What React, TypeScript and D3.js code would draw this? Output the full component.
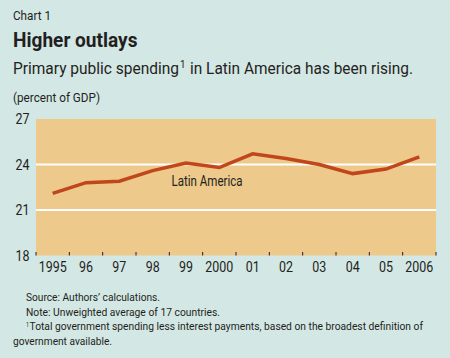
import React from "react";
import * as d3 from "d3";

const years = ["1995", "96", "97", "98", "99", "2000", "01", "02", "03", "04", "05", "2006"];
const values = [22.1, 22.8, 22.9, 23.6, 24.1, 23.8, 24.7, 24.4, 24.0, 23.4, 23.7, 24.5];
const yTicks = [18, 21, 24, 27];

const W = 450;
const H = 358;
const left = 36;
const right = 436;
const top = 119;
const bottom = 255.5;
const font = "Roboto, 'Liberation Sans', sans-serif";
const ink = "#231f20";

type TProps = {
  x: number;
  y: number;
  w: number;
  size: number;
  bold?: boolean;
  anchor?: "start" | "middle" | "end";
  children: React.ReactNode;
};

function T({ x, y, w, size, bold, anchor = "start", children }: TProps) {
  return (
    <text
      x={x}
      y={y}
      fontSize={size}
      fontWeight={bold ? 700 : 400}
      textAnchor={anchor}
      textLength={w}
      lengthAdjust="spacingAndGlyphs"
      fill={ink}
    >
      {children}
    </text>
  );
}

export default function App() {
  const x = d3.scaleBand<string>().domain(years).range([left, right]).padding(0);
  const y = d3.scaleLinear().domain([18, 27]).range([bottom, top]);
  const line = d3
    .line<number>()
    .x((_, i) => (x(years[i]) as number) + x.bandwidth() / 2)
    .y((d) => y(d));

  return (
    <svg
      width={W}
      height={H}
      style={{ position: "absolute", left: 0, top: 0, display: "block" }}
      fontFamily={font}
    >
      <rect x={0} y={0} width={W} height={H} fill="#d3e7e5" />
      <T x={13} y={19.5} w={38} size={13}>Chart 1</T>
      <T x={13} y={47} w={124.5} size={20} bold>Higher outlays</T>
      <T x={13} y={74} w={166} size={17}>Primary public spending</T>
      <T x={180} y={68} w={5.5} size={11}>1</T>
      <T x={190} y={74} w={223} size={17}>in Latin America has been rising.</T>
      <T x={13} y={102} w={87} size={12}>(percent of GDP)</T>

      <rect x={left} y={top} width={right - left} height={bottom - top} fill="#edc98b" />
      {yTicks
        .filter((t) => t !== 18 && t !== 27)
        .map((t) => (
          <line key={t} x1={left} x2={right} y1={y(t)} y2={y(t)} stroke="#ffffff" strokeWidth={2} />
        ))}
      {yTicks.map((t) => (
        <T key={t} x={29.5} y={y(t) + 5} w={14} size={14} anchor="end">
          {t}
        </T>
      ))}
      {years.map((yr) => (
        <line
          key={"t" + yr}
          x1={x(yr) as number}
          x2={x(yr) as number}
          y1={bottom - 3.5}
          y2={bottom}
          stroke={ink}
          strokeWidth={1}
        />
      ))}
      <line x1={right} x2={right} y1={bottom - 3.5} y2={bottom} stroke={ink} strokeWidth={1} />
      {years.map((yr) => (
        <T
          key={"l" + yr}
          x={(x(yr) as number) + x.bandwidth() / 2}
          y={272}
          w={yr.length * 7}
          size={14}
          anchor="middle"
        >
          {yr}
        </T>
      ))}
      <path d={line(values) as string} fill="none" stroke="#c1461c" strokeWidth={3.5} strokeLinejoin="miter" />
      <T x={171.5} y={185.5} w={71} size={14}>Latin America</T>

      <T x={26} y={301} w={134} size={11.5}>Source: Authors’ calculations.</T>
      <T x={26} y={315.5} w={194} size={11.5}>Note: Unweighted average of 17 countries.</T>
      <T x={26} y={326.5} w={3} size={7}>1</T>
      <T x={29.5} y={330} w={393.5} size={11.5}>Total government spending less interest payments, based on the broadest definition of</T>
      <T x={13} y={344.5} w={99} size={11.5}>government available.</T>
    </svg>
  );
}
